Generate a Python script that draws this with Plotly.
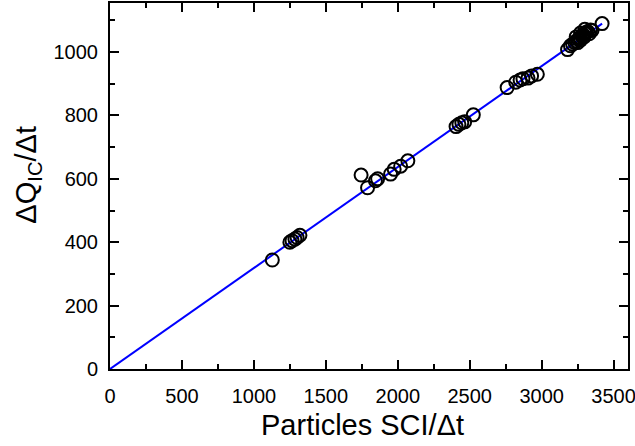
import plotly.graph_objects as go

# Measured points (Particles SCI/Δt, ΔQ_IC/Δt)
sci_rate = [1128, 1250, 1265, 1285, 1300, 1320,
            1745, 1790, 1845, 1860, 1950, 1975, 2020, 2070,
            2405, 2425, 2445, 2465, 2525,
            2760, 2820, 2850, 2870, 2905, 2930, 2970,
            3180, 3200, 3215, 3230, 3240, 3250, 3255, 3265, 3270, 3280,
            3290, 3295, 3300, 3310, 3320, 3330, 3340, 3350, 3240, 3270,
            3300, 3420]
ic_rate = [344, 400, 405, 410, 415, 422,
           612, 572, 594, 600, 615, 630, 640, 657,
           765, 772, 777, 780, 802,
           888, 905, 912, 916, 918, 925, 930,
           1008, 1020, 1025, 1030, 1035, 1030, 1040, 1045, 1038, 1050,
           1055, 1048, 1060, 1062, 1065, 1058, 1070, 1068, 1048, 1060,
           1072, 1090]

# Linear fit through origin
fit_slope = 0.3187
fit_x = [0, 3420]
fit_y = [fit_slope * v for v in fit_x]

x_ticks = [0, 500, 1000, 1500, 2000, 2500, 3000, 3500]
y_ticks = [0, 200, 400, 600, 800, 1000]
x_title = "Particles SCI/Δt"
y_title = "ΔQ<sub>IC</sub>/Δt"

tick_font = dict(family="Liberation Sans, Arial", size=20, color="black")
title_font = dict(family="Liberation Sans, Arial", size=29, color="black")

fig = go.Figure()
fig.add_trace(go.Scatter(x=fit_x, y=fit_y, mode="lines",
                         line=dict(color="#0000ff", width=2), showlegend=False))
fig.add_trace(go.Scatter(x=sci_rate, y=ic_rate, mode="markers",
                         marker=dict(symbol="circle-open", size=13, color="black",
                                     line=dict(width=2, color="black")),
                         showlegend=False))

axis_common = dict(showline=True, linecolor="black", linewidth=2, mirror="allticks",
                   ticks="inside", ticklen=9, tickwidth=1.5, tickcolor="black",
                   showgrid=False, zeroline=False, tickfont=tick_font,
                   automargin=False, ticklabeloverflow="allow")

fig.update_xaxes(range=[0, 3600], tickvals=x_ticks, ticktext=[str(v) for v in x_ticks],
                 minor=dict(dtick=250, tick0=0, ticks="inside", ticklen=5, tickcolor="black", tickwidth=1.5),
                 ticklabelstandoff=8, **axis_common)
fig.update_yaxes(range=[0, 1155], tickvals=y_ticks, ticktext=[str(v) for v in y_ticks],
                 minor=dict(dtick=100, tick0=0, ticks="inside", ticklen=5, tickcolor="black", tickwidth=1.5),
                 ticklabelstandoff=6, **axis_common)

fig.add_annotation(text=x_title, xref="paper", yref="paper", x=0.488, y=-0.153,
                   xanchor="center", yanchor="middle", showarrow=False, font=title_font)
fig.add_annotation(text=y_title, xref="paper", yref="paper", x=-0.159, y=0.53,
                   xanchor="center", yanchor="middle", textangle=-90, showarrow=False,
                   font=title_font)

fig.update_layout(width=635, height=446, margin=dict(l=110, r=7, t=3, b=77),
                  plot_bgcolor="white", paper_bgcolor="white")

fig.write_html("out.html", config={"displayModeBar": False},
               post_script="document.body.style.margin='0';")
